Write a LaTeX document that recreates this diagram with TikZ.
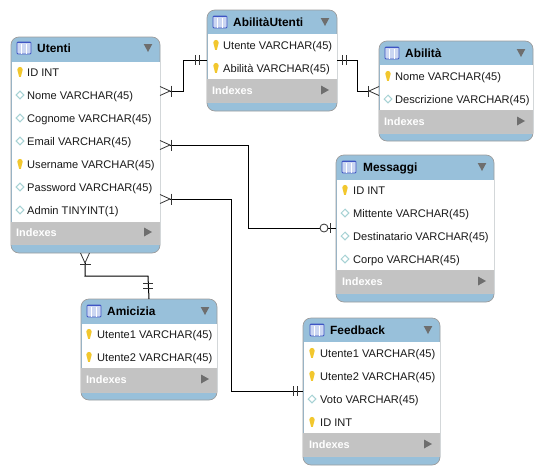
\documentclass[tikz,border=0pt]{standalone}
\usepackage{xcolor}
\usepackage{fontspec}
\setmainfont{Liberation Sans}
\definecolor{headblue}{HTML}{98C0DA}
\definecolor{bandgrey}{HTML}{C3C3C3}
\definecolor{edgegrey}{HTML}{9C9C9C}
\definecolor{keyyellow}{HTML}{F2C72E}
\definecolor{diamondteal}{HTML}{A6D2D4}
\definecolor{iconblue}{HTML}{3F55C4}
\definecolor{iconfill}{HTML}{CBD6F2}
\definecolor{markgrey}{HTML}{6E6E6E}
\tikzset{
  tablebox/.style={draw=edgegrey,line width=0.7pt,fill=headblue,rounded corners=8pt,inner sep=0pt,outer sep=0pt},
  rowarea/.style={fill=white},
  bandarea/.style={fill=bandgrey,draw=edgegrey!60,line width=0.5pt},
  titletext/.style={anchor=west,inner sep=0pt,font=\fontsize{11.9}{13}\selectfont\bfseries,text height=10pt,text depth=1pt},
  rowtext/.style={anchor=west,inner sep=0pt,font=\fontsize{11.1}{13}\selectfont,text height=9.5pt,text depth=1pt,text=black!90},
  bandtext/.style={anchor=west,inner sep=0pt,font=\fontsize{10.9}{13}\selectfont\bfseries,text=white,text height=9.5pt,text depth=1pt},
  link/.style={draw=black,line width=1pt},
  markline/.style={draw=black!80,line width=0.8pt},
  keyicon/.pic={
    \fill[keyyellow] (0,-2.4) circle (2.7);
    \fill[keyyellow] (-2.5,-1.6) -- (2.5,-1.6) -- (0.9,4.8) -- (-0.9,4.8) -- cycle;
  },
  diamondicon/.pic={
    \draw[diamondteal,fill=white,line width=1pt] (-3.8,0) -- (0,-3.8) -- (3.8,0) -- (0,3.8) -- cycle;
  },
  tableicon/.pic={
    \draw[iconblue,fill=iconfill,line width=0.8pt,rounded corners=1pt] (0,-6) rectangle (14,6);
    \draw[iconblue,line width=1.4pt] (0,-5.5) -- (14,-5.5);
    \draw[white,line width=0.7pt] (4.7,-4) -- (4.7,6) (9.3,-4) -- (9.3,6);
  },
  downmark/.pic={\fill[markgrey] (-4.3,-4) -- (4.3,-4) -- (0,4) -- cycle;},
  rightmark/.pic={\fill[markgrey] (-4,-4.5) -- (4,0) -- (-4,4.5) -- cycle;},
  crowfoot/.pic={
    \draw[markline] (0,-4.5) -- (10,0) -- (0,4.5);
    \draw[markline] (11,-5.5) -- (11,5.5);
  },
  onlyone/.pic={
    \draw[markline] (0,-5) -- (0,5) (4.5,-5) -- (4.5,5);
  },
  zeroone/.pic={
    \draw[markline,fill=white] (0,0) circle (4);
    \draw[markline] (6,-5) -- (6,5);
  }
}
\begin{document}
\begin{tikzpicture}[x=1pt,y=-1pt]
\useasboundingbox (0,0) rectangle (543,474);

% Utenti
\node[tablebox,minimum width=149pt,minimum height=216pt] (utenti) at (85.5,145) {};
\fill[rowarea] (11.5,62) rectangle (159.5,222);
\draw[bandarea] (11.5,222) rectangle (159.5,244);
\pic at (17,48) {tableicon};
\node[titletext] (utentiTitle) at (37,48) {Utenti};
\pic at (148,48) {downmark};
\pic at (20,72) {keyicon};
\node[rowtext] (utentiId) at (27,72) {ID INT};
\pic at (20,95) {diamondicon};
\node[rowtext] (utentiNome) at (27,95) {Nome VARCHAR(45)};
\pic at (20,118) {diamondicon};
\node[rowtext] (utentiCognome) at (27,118) {Cognome VARCHAR(45)};
\pic at (20,141) {diamondicon};
\node[rowtext] (utentiEmail) at (27,141) {Email VARCHAR(45)};
\pic at (20,164) {keyicon};
\node[rowtext] (utentiUsername) at (27,164) {Username VARCHAR(45)};
\pic at (20,187) {diamondicon};
\node[rowtext] (utentiPassword) at (27,187) {Password VARCHAR(45)};
\pic at (20,210) {diamondicon};
\node[rowtext] (utentiAdmin) at (27,210) {Admin TINYINT(1)};
\node[bandtext] (utentiIndexes) at (16,232) {Indexes};
\pic at (148,232) {rightmark};

% AbilitaUtenti
\node[tablebox,minimum width=130pt,minimum height=101pt] (abilitaUtenti) at (272,60.5) {};
\fill[rowarea] (207.5,34) rectangle (336.5,79);
\draw[bandarea] (207.5,79) rectangle (336.5,102);
\pic at (213,22) {tableicon};
\node[titletext] (abilitaUtentiTitle) at (233,22) {AbilitàUtenti};
\pic at (325,22) {downmark};
\pic at (216,45) {keyicon};
\node[rowtext] (abilitaUtentiUtente) at (223,45) {Utente VARCHAR(45)};
\pic at (216,68) {keyicon};
\node[rowtext] (abilitaUtentiAbilita) at (223,68) {Abilità VARCHAR(45)};
\node[bandtext] (abilitaUtentiIndexes) at (212,90) {Indexes};
\pic at (325,90) {rightmark};

% Abilita
\node[tablebox,minimum width=154pt,minimum height=100pt] (abilita) at (456,91) {};
\fill[rowarea] (379.5,65) rectangle (532.5,110);
\draw[bandarea] (379.5,110) rectangle (532.5,133);
\pic at (385,53) {tableicon};
\node[titletext] (abilitaTitle) at (405,53) {Abilità};
\pic at (521,53) {downmark};
\pic at (388,76) {keyicon};
\node[rowtext] (abilitaNome) at (395,76) {Nome VARCHAR(45)};
\pic at (388,99) {diamondicon};
\node[rowtext] (abilitaDescrizione) at (395,99) {Descrizione VARCHAR(45)};
\node[bandtext] (abilitaIndexes) at (384,121) {Indexes};
\pic at (521,121) {rightmark};

% Messaggi
\node[tablebox,minimum width=158pt,minimum height=147pt] (messaggi) at (415,228.5) {};
\fill[rowarea] (336.5,180) rectangle (493.5,270);
\draw[bandarea] (336.5,270) rectangle (493.5,293);
\pic at (342,167) {tableicon};
\node[titletext] (messaggiTitle) at (363,167) {Messaggi};
\pic at (482,167) {downmark};
\pic at (345,190) {keyicon};
\node[rowtext] (messaggiId) at (353,190) {ID INT};
\pic at (345,213) {diamondicon};
\node[rowtext] (messaggiMittente) at (353,213) {Mittente VARCHAR(45)};
\pic at (345,236) {diamondicon};
\node[rowtext] (messaggiDestinatario) at (353,236) {Destinatario VARCHAR(45)};
\pic at (345,259) {diamondicon};
\node[rowtext] (messaggiCorpo) at (353,259) {Corpo VARCHAR(45)};
\node[bandtext] (messaggiIndexes) at (342,281) {Indexes};
\pic at (482,281) {rightmark};

% Amicizia
\node[tablebox,minimum width=136pt,minimum height=101pt] (amicizia) at (149,349.5) {};
\fill[rowarea] (81.5,324) rectangle (216.5,368);
\draw[bandarea] (81.5,368) rectangle (216.5,392);
\pic at (87,311) {tableicon};
\node[titletext] (amiciziaTitle) at (107,311) {Amicizia};
\pic at (205,311) {downmark};
\pic at (89,334) {keyicon};
\node[rowtext] (amiciziaUtente1) at (97,334) {Utente1 VARCHAR(45)};
\pic at (89,357) {keyicon};
\node[rowtext] (amiciziaUtente2) at (97,357) {Utente2 VARCHAR(45)};
\node[bandtext] (amiciziaIndexes) at (86,379) {Indexes};
\pic at (205,379) {rightmark};

% Feedback
\node[tablebox,minimum width=137pt,minimum height=147pt] (feedback) at (371.5,391.5) {};
\fill[rowarea] (303.5,342) rectangle (439.5,433);
\draw[bandarea] (303.5,433) rectangle (439.5,456);
\pic at (310,330) {tableicon};
\node[titletext] (feedbackTitle) at (330,330) {Feedback};
\pic at (428,330) {downmark};
\pic at (312,353) {keyicon};
\node[rowtext] (feedbackUtente1) at (320,353) {Utente1 VARCHAR(45)};
\pic at (312,376) {keyicon};
\node[rowtext] (feedbackUtente2) at (320,376) {Utente2 VARCHAR(45)};
\pic at (312,399) {diamondicon};
\node[rowtext] (feedbackVoto) at (320,399) {Voto VARCHAR(45)};
\pic at (312,422) {keyicon};
\node[rowtext] (feedbackId) at (320,422) {ID INT};
\node[bandtext] (feedbackIndexes) at (309,444) {Indexes};
\pic at (428,444) {rightmark};

% links
\draw[link,shorten <=10pt] (utenti.east |- 0,91) -- (183,91) -- (183,60) -- (abilitaUtenti.west |- 0,60);
\pic at (utenti.east |- 0,91) {crowfoot};
\pic at (195,60) {onlyone};

\draw[link,shorten >=10pt] (abilitaUtenti.east |- 0,60) -- (357,60) -- (357,91) -- (abilita.west |- 0,91);
\pic at (342,60) {onlyone};
\pic[rotate=180] at (abilita.west |- 0,91) {crowfoot};

\draw[link,shorten <=10pt] (utenti.east |- 0,145) -- (248,145) -- (248,228) -- (messaggi.west |- 0,228);
\pic at (utenti.east |- 0,145) {crowfoot};
\pic at (324,228) {zeroone};

\draw[link,shorten <=10pt] (utenti.east |- 0,199) -- (231,199) -- (231,391) -- (feedback.west |- 0,391);
\pic at (utenti.east |- 0,199) {crowfoot};
\pic at (293,391) {onlyone};

\draw[link,shorten <=10pt] (utenti.south |- 85,253) -- (85,276) -- (148,276) -- (amicizia.north |- 148,299);
\pic[rotate=-90] at (85,253) {crowfoot};
\pic[rotate=90] at (148,288) {onlyone};
\end{tikzpicture}
\end{document}
